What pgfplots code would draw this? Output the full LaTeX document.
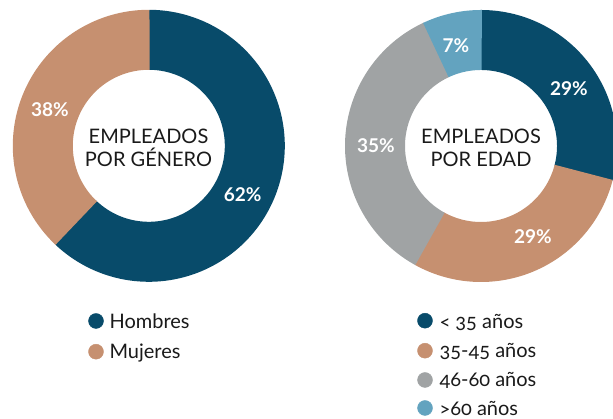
\documentclass[border=0pt]{standalone}
\usepackage{pgfplots}
\pgfplotsset{compat=1.18}
\usepackage{fontspec}
\setmainfont{Lato}
\newfontfamily\legfont{Lato}[Numbers=OldStyle]
\definecolor{dblue}{HTML}{084B6A}
\definecolor{tan}{HTML}{C69070}
\definecolor{grayc}{HTML}{A0A3A4}
\definecolor{lblue}{HTML}{63A3BF}
\definecolor{txt}{HTML}{1A1A1A}
% data (percent)
\def\pH{62}\def\pM{38}
\def\pA{29}\def\pB{29}\def\pC{35}\def\pD{7}
\pgfmathsetmacro\aH{90-3.6*\pH}
\pgfmathsetmacro\aM{\aH-3.6*\pM}
\pgfmathsetmacro\aA{90-3.6*\pA}
\pgfmathsetmacro\aB{\aA-3.6*\pB}
\pgfmathsetmacro\aC{\aB-3.6*\pC}
\pgfmathsetmacro\aD{\aC-3.6*\pD}
\pgfmathsetmacro\aHx{\aH-0.4}
\pgfmathsetmacro\aMx{\aM-0.4}
\pgfmathsetmacro\aAx{\aA-0.4}
\pgfmathsetmacro\aBx{\aB-0.4}
\pgfmathsetmacro\aCx{\aC-0.4}
\pgfmathsetmacro\aDx{\aD-0.4}
\begin{document}
\begin{tikzpicture}
\begin{axis}[at={(0,0)}, anchor=south west,
  width=613pt, height=419pt, scale only axis,
  xmin=0, xmax=613, ymin=0, ymax=419,
  axis lines=none, clip=true,
  samples=150, line cap=butt]
% left donut: centre (148.8,273.2)
\addplot[dblue, line width=60pt, domain=90:\aHx] ({148.8+106*cos(x)},{273.2+106*sin(x)});
\addplot[tan, line width=60pt, domain=\aH:\aMx] ({148.8+106*cos(x)},{273.2+106*sin(x)});
% right donut: centre (481,273)
\addplot[dblue, line width=60pt, domain=90:\aAx] ({481+106*cos(x)},{273+106*sin(x)});
\addplot[tan, line width=60pt, domain=\aA:\aBx] ({481+106*cos(x)},{273+106*sin(x)});
\addplot[grayc, line width=60pt, domain=\aB:\aCx] ({481+106*cos(x)},{273+106*sin(x)});
\addplot[lblue, line width=60pt, domain=\aC:\aDx] ({481+106*cos(x)},{273+106*sin(x)});
% percentage labels
\begin{scope}[every node/.style={text=white, font=\fontsize{19}{22}\selectfont\bfseries}]
\node at (242.7,224.7) {\pH\%};
\node at (50,309) {\pM\%};
\node at (569,330) {\pA\%};
\node at (533,182) {\pB\%};
\node at (376,273.3) {\pC\%};
\node at (456,373) {\pD\%};
\end{scope}
% centre titles
\begin{scope}[every node/.style={text=txt, font=\fontsize{20}{23}\selectfont, anchor=base}]
\node at (148.5,275.7) {EMPLEADOS};
\node at (148.5,252.3) {POR GÉNERO};
\node at (481,275.7) {EMPLEADOS};
\node at (481,252.3) {POR EDAD};
\end{scope}
% legend markers
\addplot[only marks, mark=*, mark size=7.5pt, dblue] coordinates {(96,98) (425,98.3)};
\addplot[only marks, mark=*, mark size=7.5pt, tan] coordinates {(96,67.3) (425,68.3)};
\addplot[only marks, mark=*, mark size=7.5pt, grayc] coordinates {(425,39)};
\addplot[only marks, mark=*, mark size=7.5pt, lblue] coordinates {(425,11)};
\begin{scope}[every node/.style={text=txt, font=\fontsize{20}{22}\selectfont\legfont, anchor=base west}]
\node at (106,90.7) {Hombres};
\node at (106,60.7) {Mujeres};
\node at (436,90.7) {< 35 años};
\node at (436,61) {35-45 años};
\node at (436,32) {46-60 años};
\node at (436,3.5) {>60 años};
\end{scope}
\end{axis}
\pgfresetboundingbox
\path[use as bounding box] (0,0) rectangle (613pt,419pt);
\end{tikzpicture}
\end{document}
